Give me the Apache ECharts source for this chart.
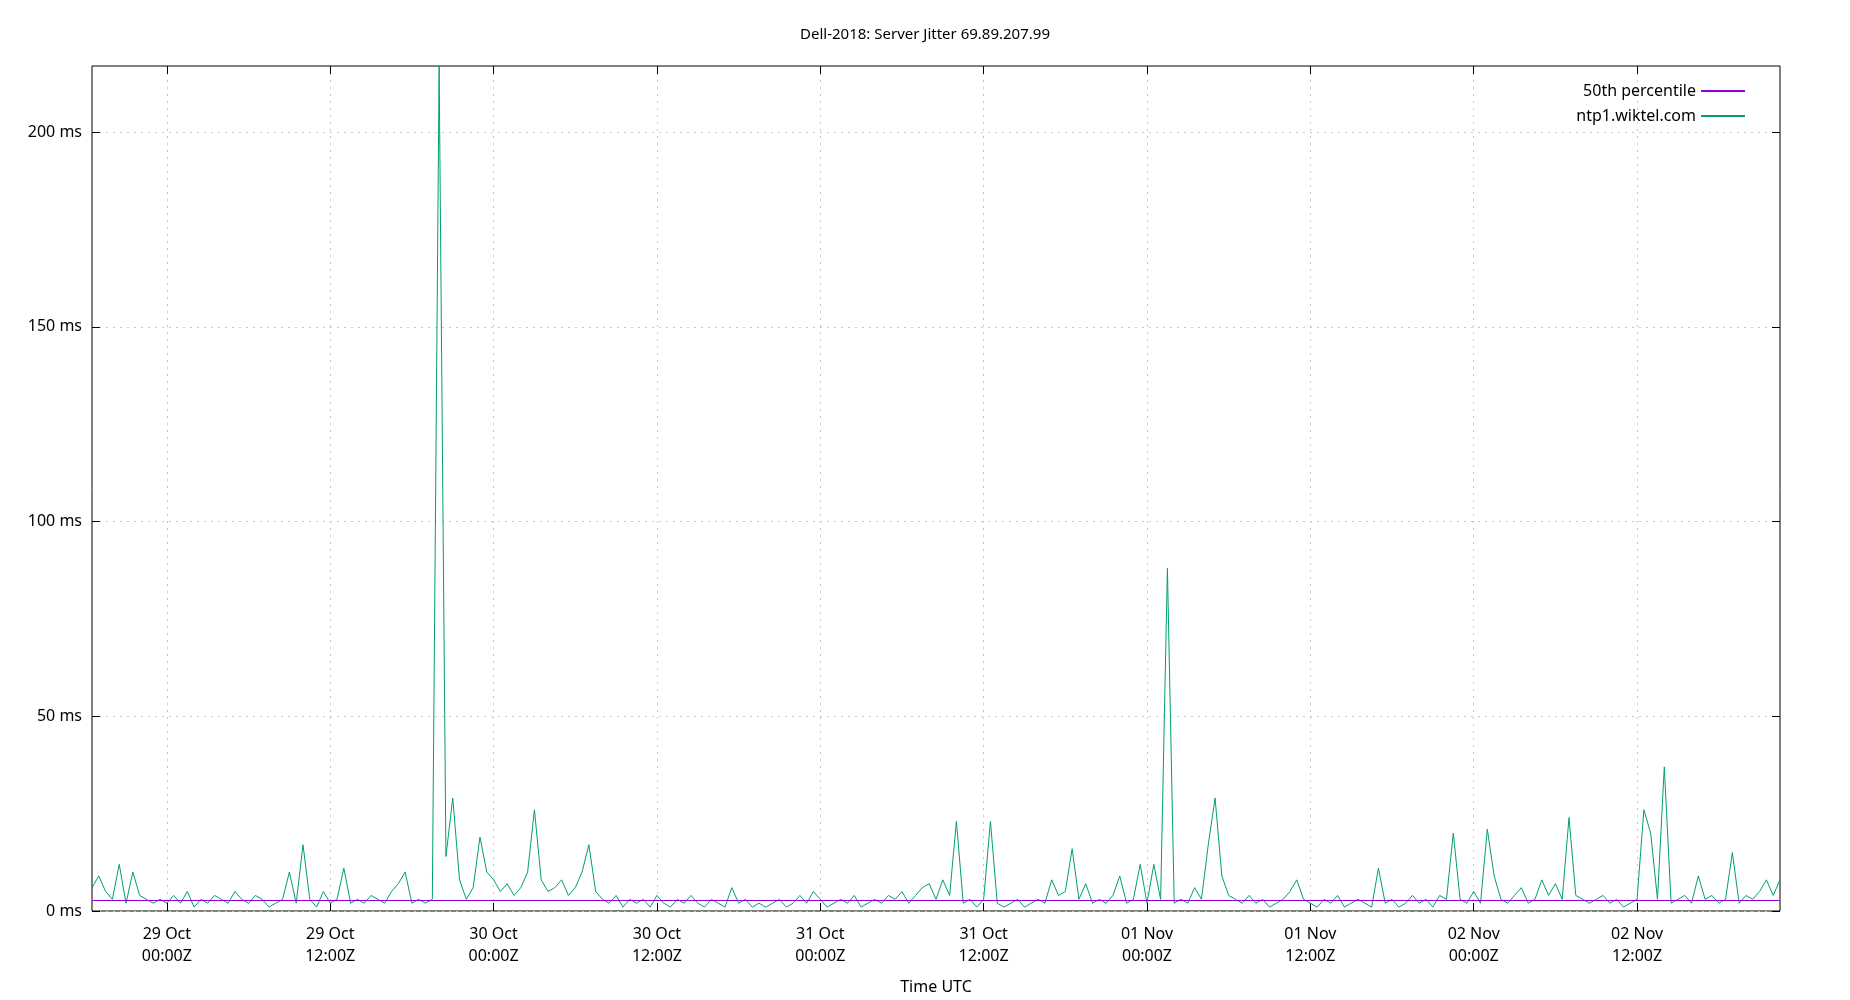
<!DOCTYPE html>
<html>
<head>
<meta charset="utf-8">
<script src="https://cdn.jsdelivr.net/npm/echarts@6/dist/echarts.min.js"></script>
<style>
  html, body { margin: 0; padding: 0; background: #fff; }
  #chart { width: 1850px; height: 1000px; }
</style>
</head>
<body>
<div id="chart"></div>
<script>
// hours relative to 29 Oct 00:00Z, one sample every 30 minutes
const startHour = -5.5
const stepHours = 0.5
const jitter = [
  6, 9, 5, 3, 12, 2, 10, 4, 3, 2,
  3, 2, 4, 2, 5, 1, 3, 2, 4, 3,
  2, 5, 3, 2, 4, 3, 1, 2, 3, 10,
  2, 17, 3, 1, 5, 2, 3, 11, 2, 3,
  2, 4, 3, 2, 5, 7, 10, 2, 3, 2,
  3, 217, 14, 29, 8, 3, 6, 19, 10, 8,
  5, 7, 4, 6, 10, 26, 8, 5, 6, 8,
  4, 6, 10, 17, 5, 3, 2, 4, 1, 3,
  2, 3, 1, 4, 2, 1, 3, 2, 4, 2,
  1, 3, 2, 1, 6, 2, 3, 1, 2, 1,
  2, 3, 1, 2, 4, 2, 5, 3, 1, 2,
  3, 2, 4, 1, 2, 3, 2, 4, 3, 5,
  2, 4, 6, 7, 3, 8, 4, 23, 2, 3,
  1, 3, 23, 2, 1, 2, 3, 1, 2, 3,
  2, 8, 4, 5, 16, 3, 7, 2, 3, 2,
  4, 9, 2, 3, 12, 2, 12, 3, 88, 2,
  3, 2, 6, 3, 17, 29, 9, 4, 3, 2,
  4, 2, 3, 1, 2, 3, 5, 8, 3, 2,
  1, 3, 2, 4, 1, 2, 3, 2, 1, 11,
  2, 3, 1, 2, 4, 2, 3, 1, 4, 3,
  20, 3, 2, 5, 2, 21, 9, 3, 2, 4,
  6, 2, 3, 8, 4, 7, 3, 24, 4, 3,
  2, 3, 4, 2, 3, 1, 2, 3, 26, 20,
  3, 37, 2, 3, 4, 2, 9, 3, 4, 2,
  3, 15, 2, 4, 3, 5, 8, 4, 8
]
const median = 2.7
const tickHours = [0, 12, 24, 36, 48, 60, 72, 84, 96, 108]
const tickLabels = [
  '29 Oct\n00:00Z', '29 Oct\n12:00Z', '30 Oct\n00:00Z', '30 Oct\n12:00Z', '31 Oct\n00:00Z',
  '31 Oct\n12:00Z', '01 Nov\n00:00Z', '01 Nov\n12:00Z', '02 Nov\n00:00Z', '02 Nov\n12:00Z'
]
const yTicks = [0, 50, 100, 150, 200]

const endHour = startHour + (jitter.length - 1) * stepHours
const jitterData = jitter.map((v, i) => [startHour + i * stepHours, v])
const medianData = [[startHour, median], [endHour, median]]

const font = 'Noto Sans'
const chart = echarts.init(document.getElementById('chart'))

const xBase = {
  type: 'value',
  min: startHour,
  max: endHour,
  axisLine: { show: false, onZero: false },
  axisTick: { inside: true, length: 8, customValues: tickHours, lineStyle: { color: '#000' } }
}
const yBase = {
  type: 'value',
  min: 0,
  max: 217,
  axisLine: { show: false, onZero: false },
  axisTick: { inside: true, length: 8, customValues: yTicks, lineStyle: { color: '#000' } }
}

chart.setOption({
  animation: false,
  textStyle: { fontFamily: font },
  title: {
    text: 'Dell-2018: Server Jitter 69.89.207.99',
    left: 'center',
    top: 22,
    textStyle: { fontFamily: font, fontSize: 15, fontWeight: 'normal', color: '#000' }
  },
  legend: {
    top: 78,
    right: 100,
    orient: 'vertical',
    align: 'right',
    itemWidth: 44,
    itemHeight: 2,
    itemGap: 9,
    icon: 'rect',
    textStyle: { fontFamily: font, fontSize: 16, color: '#000' },
    data: ['50th percentile', 'ntp1.wiktel.com']
  },
  grid: {
    left: 92,
    right: 70,
    top: 66,
    bottom: 82,
    show: true,
    borderColor: '#000',
    borderWidth: 1
  },
  xAxis: [
    {
      ...xBase,
      position: 'bottom',
      name: 'Time UTC',
      nameLocation: 'middle',
      nameGap: 68,
      nameTextStyle: { fontFamily: font, fontSize: 16, color: '#000' },
      axisLabel: {
        customValues: tickHours,
        formatter: v => tickLabels[tickHours.indexOf(v)] || '',
        color: '#000',
        fontSize: 16,
        lineHeight: 22,
        margin: 12
      },
      splitLine: { show: true, lineStyle: { color: '#c8c8c8', type: [2, 5] } }
    },
    { ...xBase, position: 'top', axisLabel: { show: false }, splitLine: { show: false } }
  ],
  yAxis: [
    {
      ...yBase,
      position: 'left',
      axisLabel: {
        customValues: yTicks,
        formatter: v => v + ' ms',
        color: '#000',
        fontSize: 16,
        margin: 10
      },
      splitLine: { show: true, lineStyle: { color: '#c8c8c8', type: [2, 5] } }
    },
    { ...yBase, position: 'right', axisLabel: { show: false }, splitLine: { show: false } }
  ],
  series: [
    {
      name: '50th percentile',
      type: 'line',
      data: medianData,
      symbol: 'none',
      lineStyle: { color: '#9400d3', width: 1.2 },
      itemStyle: { color: '#9400d3' },
      z: 3
    },
    {
      name: 'ntp1.wiktel.com',
      type: 'line',
      data: jitterData,
      symbol: 'none',
      lineStyle: { color: '#009e73', width: 1 },
      itemStyle: { color: '#009e73' },
      z: 2
    }
  ]
})
</script>
</body>
</html>
